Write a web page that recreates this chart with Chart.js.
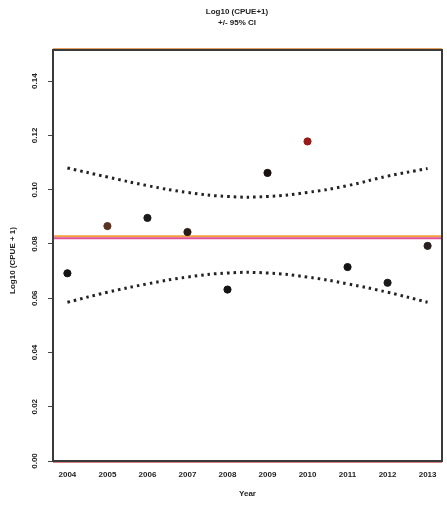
<!DOCTYPE html>
<html lang="en">
<head>
  <title>CPUE index</title>
  <meta charset="utf-8">
  <script src="https://cdn.jsdelivr.net/npm/chart.js@4.4.1/dist/chart.umd.min.js"></script>
  <style>
    body { margin: 0; background: #fff; }
    #wrap { width: 447px; height: 505px; }
  </style>
</head>
<body>
<div id="wrap"><canvas id="cpue"></canvas></div>

<script>
  // values
  const years = [2004, 2005, 2006, 2007, 2008, 2009, 2010, 2011, 2012, 2013];
  const logCpue = [0.0692, 0.0866, 0.0896, 0.0844, 0.0632, 0.1062, 0.1178, 0.0715, 0.0657, 0.0793];
  const pointColours = ['#141414', '#5a3220', '#1a1a1a', '#2a1a14', '#141414', '#1a1010', '#9a1a1a', '#141414', '#1a1a1a', '#2a2020'];
  const upperCI = [0.1080, 0.1047, 0.1015, 0.0990, 0.0975, 0.0975, 0.0990, 0.1015, 0.1050, 0.1078];
  const lowerCI = [0.0585, 0.0622, 0.0653, 0.0678, 0.0693, 0.0693, 0.0678, 0.0653, 0.0622, 0.0585];
  const meanLine = 0.0823;
  const yTicks = [0, 0.02, 0.04, 0.06, 0.08, 0.10, 0.12, 0.14];
  const yTickLabels = ['0.00', '0.02', '0.04', '0.06', '0.08', '0.10', '0.12', '0.14'];

  function pairs(ys) {
    return years.map((x, i) => ({x: x, y: ys[i]}));
  }

  const dotted = {
    borderColor: '#222',
    borderWidth: 3,
    borderDash: [2.5, 4],
    pointRadius: 0,
    tension: 0.45,
    fill: false
  };

  // box, reference lines, rotated y labels and titles
  const decor = {
    id: 'decor',
    beforeDatasetsDraw(chart) {
      const {ctx, chartArea: a, scales: {y}} = chart;
      ctx.save();
      const ym = y.getPixelForValue(meanLine);
      ctx.lineWidth = 2;
      ctx.strokeStyle = '#f0a040';
      ctx.beginPath(); ctx.moveTo(a.left, ym - 1.5); ctx.lineTo(a.right, ym - 1.5); ctx.stroke();
      ctx.strokeStyle = '#e0509a';
      ctx.beginPath(); ctx.moveTo(a.left, ym + 0.5); ctx.lineTo(a.right, ym + 0.5); ctx.stroke();
      ctx.restore();
    },
    afterDraw(chart) {
      const {ctx, chartArea: a, scales: {y}} = chart;
      ctx.save();
      // orange line at the top edge, pinkish at bottom
      ctx.lineWidth = 2;
      ctx.strokeStyle = '#e8a060';
      ctx.beginPath(); ctx.moveTo(a.left, a.top - 1); ctx.lineTo(a.right, a.top - 1); ctx.stroke();
      ctx.strokeStyle = '#d88080';
      ctx.beginPath(); ctx.moveTo(a.left, a.bottom + 1); ctx.lineTo(a.right, a.bottom + 1); ctx.stroke();
      ctx.strokeStyle = '#3a3a3a';
      ctx.lineWidth = 2;
      ctx.strokeRect(a.left, a.top, a.right - a.left, a.bottom - a.top);

      ctx.fillStyle = '#222';
      ctx.font = 'bold 8px "Liberation Sans", Arial, sans-serif';
      ctx.textAlign = 'center';
      ctx.textBaseline = 'middle';
      yTicks.forEach((v, i) => {
        const py = y.getPixelForValue(v);
        ctx.save();
        ctx.translate(35, py);
        ctx.rotate(-Math.PI / 2);
        ctx.fillText(yTickLabels[i], 0, 0);
        ctx.restore();
      });
      ctx.save();
      ctx.translate(13, (a.top + a.bottom) / 2 + 5);
      ctx.rotate(-Math.PI / 2);
      ctx.fillText('Log10 (CPUE + 1)', 0, 0);
      ctx.restore();

      ctx.fillText('Year', (a.left + a.right) / 2, 494);
      ctx.fillText('Log10 (CPUE+1)', 237, 12);
      ctx.fillText('+/- 95% CI', 237, 23);
      ctx.restore();
    }
  };

  new Chart('cpue', {
    type: 'scatter',
    data: {
      datasets: [
        Object.assign({data: pairs(upperCI), showLine: true}, dotted),
        Object.assign({data: pairs(lowerCI), showLine: true}, dotted),
        {
          data: pairs(logCpue),
          pointRadius: 3.6,
          pointBackgroundColor: pointColours,
          pointBorderColor: pointColours,
          showLine: false
        }
      ]
    },
    options: {
      responsive: true,
      maintainAspectRatio: false,
      animation: false,
      layout: {padding: {top: 50, right: 4, left: 0, bottom: 0}},
      plugins: {legend: {display: false}, tooltip: {enabled: false}, title: {display: false}},
      scales: {
        x: {
          type: 'linear',
          min: 2003.64,
          max: 2013.36,
          afterBuildTicks: s => { s.ticks = years.map(v => ({value: v})); },
          afterFit: s => { s.height = 44; },
          grid: {display: false, drawTicks: true, tickLength: 5, tickColor: '#444', drawOnChartArea: false},
          border: {display: false},
          ticks: {
            color: '#222',
            padding: 4,
            maxRotation: 0,
            autoSkip: false,
            font: {family: '"Liberation Sans", Arial, sans-serif', size: 8, weight: 'bold'},
            callback: v => String(v)
          }
        },
        y: {
          min: 0,
          max: 0.1515,
          afterBuildTicks: s => { s.ticks = yTicks.map(v => ({value: v})); },
          afterFit: s => { s.width = 53; },
          grid: {display: true, drawOnChartArea: false, drawTicks: true, tickLength: 5, tickColor: '#444'},
          border: {display: false},
          ticks: {display: false}
        }
      }
    },
    plugins: [decor]
  });
</script>
</body>
</html>
